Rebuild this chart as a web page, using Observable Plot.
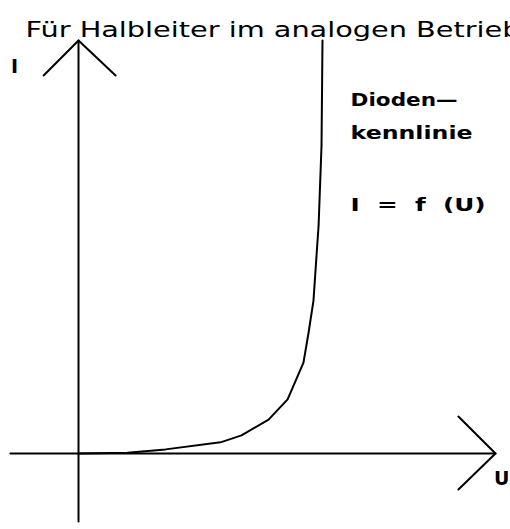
<!DOCTYPE html>
<html><head><meta charset="utf-8">
<script src="https://cdn.jsdelivr.net/npm/d3@7"></script>
<script src="https://cdn.jsdelivr.net/npm/@observablehq/plot@0.6"></script>
<style>body{margin:0;background:#fff;overflow:hidden}</style>
</head><body><div id="chart"></div>
<script>
// Diode characteristic I = f(U), abstract units (U: 0..1 knee, I: 0..10)
const curveU = [0, 0.20, 0.357, 0.582, 0.668, 0.779, 0.857, 0.922, 0.943, 0.963, 0.975, 0.984, 0.996, 1.0];
const curveI = [0, 0.02, 0.10, 0.27, 0.44, 0.82, 1.31, 2.20, 2.93, 3.70, 4.75, 5.52, 7.46, 10.0];

// axes extents
const uAxis = [-0.279, 1.709];
const iAxis = [-1.646, 10.0];

// open arrowheads (arm end, apex, arm end)
const arrowTop = [{u:-0.143, i:9.153}, {u:0, i:10.0}, {u:0.152, i:9.153}];
const arrowRight = [{u:1.557, i:0.896}, {u:1.709, i:0}, {u:1.557, i:-0.87}];

const title = "Für Halbleiter im analogen Betrieb";
const labelTexts = ["Dioden\u2014", "kennlinie", "I  =  f  (U)"];
const labelI = [8.55, 7.75, 6.00];
const labelWidths = [107, 122, 135];
const axisLabels = [
  {u:-0.262, i:9.35, text:"I"},
  {u:1.734, i:-0.62, text:"U"}
];

const curve = curveU.map((u, k) => ({u, i: curveI[k]}));
const labels = labelTexts.map((text, k) => ({u:1.115, i:labelI[k], text}));

const plot = Plot.plot({
  width: 510, height: 529,
  margin: 0,
  x: {domain: [-0.3197, 1.7705], axis: null},
  y: {domain: [-1.840, 10.969], axis: null},
  marks: [
    Plot.line(uAxis.map(u => ({u, i:0})), {x:"u", y:"i", stroke:"#000", strokeWidth:2}),
    Plot.line(iAxis.map(i => ({u:0, i})), {x:"u", y:"i", stroke:"#000", strokeWidth:2}),
    Plot.line(arrowTop, {x:"u", y:"i", stroke:"#000", strokeWidth:2}),
    Plot.line(arrowRight, {x:"u", y:"i", stroke:"#000", strokeWidth:2}),
    Plot.line(curve, {x:"u", y:"i", stroke:"#000", strokeWidth:2, curve:"linear"}),
    Plot.text(labels, {x:"u", y:"i", text:"text", textAnchor:"start", fontSize:18, fontWeight:"bold",
      fontFamily:"DejaVu Sans", fill:"#000"}),
    Plot.text(axisLabels, {x:"u", y:"i", text:"text", fontSize:19, fontWeight:"bold", fontFamily:"DejaVu Sans", fill:"#000"}),
    Plot.text([title], {frameAnchor:"top-left", dx:25, dy:21, text:d=>d, textAnchor:"start", fontSize:22,
      fontFamily:"DejaVu Sans", fill:"#000"})
  ]
});
// stretch text widths to match the wide original typeface
d3.select(plot).selectAll("text").each(function() {
  const t = this.textContent;
  const k = labelTexts.indexOf(t);
  if (k >= 0) { this.setAttribute("textLength", labelWidths[k]); this.setAttribute("lengthAdjust", "spacingAndGlyphs"); }
  if (t === title) { this.setAttribute("textLength", 495); this.setAttribute("lengthAdjust", "spacingAndGlyphs"); }
});
document.getElementById("chart").appendChild(plot);
</script></body></html>
